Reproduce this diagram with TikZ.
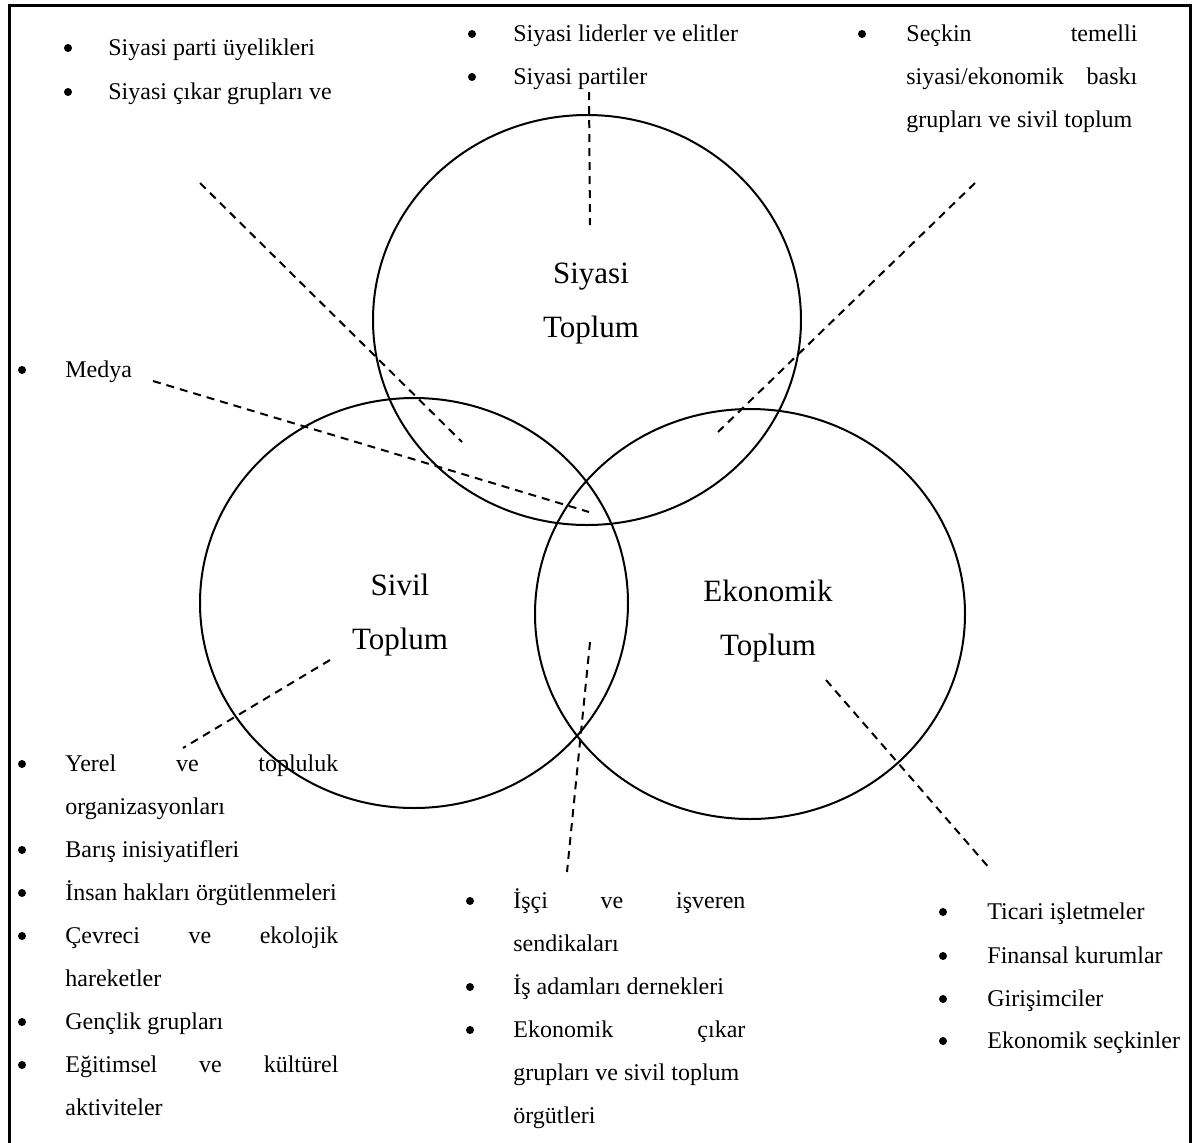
\documentclass[tikz,border=0pt]{standalone}
\usepackage{fontspec}
\setmainfont{Liberation Serif}
\begin{document}
\begin{tikzpicture}[x=0.5pt,y=-0.5pt,
  txt/.style={anchor=base west, inner sep=0pt, font=\fontsize{12}{14}\selectfont},
  bul/.style={circle, fill=black, inner sep=0pt, minimum size=4pt, yshift=3.5pt},
  lbl/.style={anchor=base, inner sep=0pt, font=\fontsize{15.5}{18}\selectfont},
  ring/.style={line width=1pt},
  dsh/.style={line width=1pt, dash pattern=on 4pt off 3pt},
  frame/.style={line width=1.5pt}]
\useasboundingbox (0,0) rectangle (1195,1142);
\draw[frame] (9,1150) -- (9,5) -- (1190,5) -- (1190,1150);
% circles
\draw[ring] (587,320) ellipse [x radius=214, y radius=205];
\draw[ring] (414,603) ellipse [x radius=214, y radius=205];
\draw[ring] (750,614) ellipse [x radius=215, y radius=205];
% circle labels
\node[lbl] (siy1) at (591,283) {Siyasi};
\node[lbl] (siy2) at (591,337) {Toplum};
\node[lbl] (siv1) at (400,595) {Sivil};
\node[lbl] (siv2) at (400,649) {Toplum};
\node[lbl] (eko1) at (768,601) {Ekonomik};
\node[lbl] (eko2) at (768,655) {Toplum};
% top-left list
\node[bul] (b1) at (68,55) {};
\node[txt] (a1) at (108,55) {Siyasi parti üyelikleri};
\node[bul] (b2) at (68,99) {};
\node[txt] (a2) at (108,99) {Siyasi çıkar grupları ve};
% top-middle list
\node[bul] (b3) at (472,41) {};
\node[txt] (a3) at (513,41) {Siyasi liderler ve elitler};
\node[bul] (b4) at (472,84) {};
\node[txt] (a4) at (513,84) {Siyasi partiler};
% top-right list
\node[bul] (b5) at (862,41) {};
\node[txt] (a5) at (906,41) {\makebox[115.5pt][s]{Seçkin temelli}};
\node[txt] (a6) at (906,84) {\makebox[115.5pt][s]{siyasi/ekonomik baskı}};
\node[txt] (a7) at (906,127) {grupları ve sivil toplum};
% Medya
\node[bul] (b6) at (22,377) {};
\node[txt] (a8) at (65,377) {Medya};
% bottom-left list
\node[bul] (b7) at (22,771) {};
\node[txt] (c1) at (65,771) {\makebox[136.5pt][s]{Yerel ve topluluk}};
\node[txt] (c2) at (65,814) {organizasyonları};
\node[bul] (b8) at (22,857) {};
\node[txt] (c3) at (65,857) {Barış inisiyatifleri};
\node[bul] (b9) at (22,900) {};
\node[txt] (c4) at (65,900) {İnsan hakları örgütlenmeleri};
\node[bul] (b10) at (22,943) {};
\node[txt] (c5) at (65,943) {\makebox[136.5pt][s]{Çevreci ve ekolojik}};
\node[txt] (c6) at (65,986) {hareketler};
\node[bul] (b11) at (22,1029) {};
\node[txt] (c7) at (65,1029) {Gençlik grupları};
\node[bul] (b12) at (22,1072) {};
\node[txt] (c8) at (65,1072) {\makebox[136.5pt][s]{Eğitimsel ve kültürel}};
\node[txt] (c9) at (65,1115) {aktiviteler};
% bottom-middle list
\node[bul] (b13) at (470,908) {};
\node[txt] (e1) at (513,908) {\makebox[116pt][s]{İşçi ve işveren}};
\node[txt] (e2) at (513,951) {sendikaları};
\node[bul] (b14) at (470,994) {};
\node[txt] (e3) at (513,994) {İş adamları dernekleri};
\node[bul] (b15) at (470,1037) {};
\node[txt] (e4) at (513,1037) {\makebox[116pt][s]{Ekonomik çıkar}};
\node[txt] (e5) at (513,1080) {grupları ve sivil toplum};
\node[txt] (e6) at (513,1123) {örgütleri};
% bottom-right list
\node[bul] (b16) at (943,919) {};
\node[txt] (f1) at (987,919) {Ticari işletmeler};
\node[bul] (b17) at (943,963) {};
\node[txt] (f2) at (987,963) {Finansal kurumlar};
\node[bul] (b18) at (943,1006) {};
\node[txt] (f3) at (987,1006) {Girişimciler};
\node[bul] (b19) at (943,1048) {};
\node[txt] (f4) at (987,1048) {Ekonomik seçkinler};
% dashed connectors
\coordinate (p1a) at (589,92);  \coordinate (p1b) at (590,225);
\coordinate (p2a) at (200,183); \coordinate (p2b) at (462,442);
\coordinate (p3a) at (975,183); \coordinate (p3b) at (718,432);
\coordinate (p4a) at (153,381); \coordinate (p4b) at (589,512);
\coordinate (p5a) at (330,660); \coordinate (p5b) at (183,748);
\coordinate (p6a) at (590,642); \coordinate (p6b) at (567,872);
\coordinate (p7a) at (826,680); \coordinate (p7b) at (991,870);
\draw[dsh] (p1a) -- (p1b);
\draw[dsh] (p2a) -- (p2b);
\draw[dsh] (p3a) -- (p3b);
\draw[dsh] (p4a) -- (p4b);
\draw[dsh] (p5a) -- (p5b);
\draw[dsh] (p6a) -- (p6b);
\draw[dsh] (p7a) -- (p7b);
\end{tikzpicture}
\end{document}
